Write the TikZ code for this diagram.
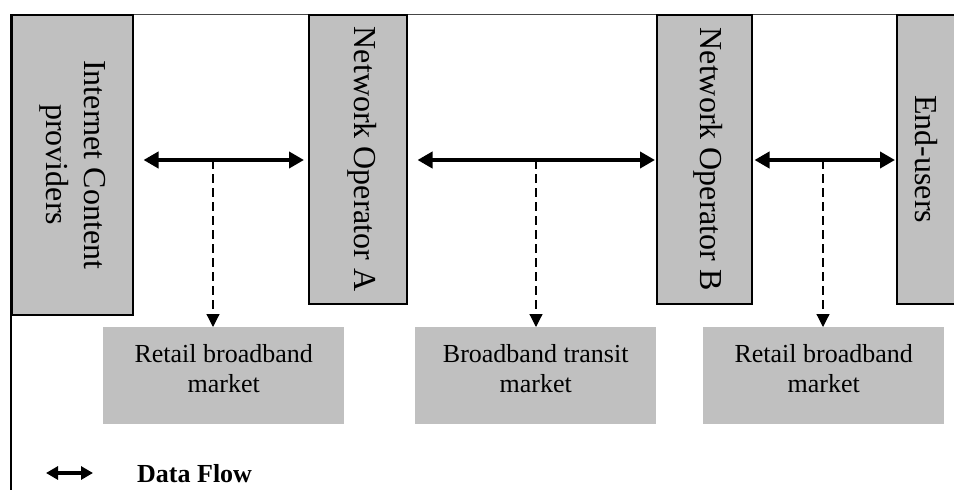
\documentclass[tikz,border=0pt]{standalone}
\usepackage{fontspec}
\setmainfont{Liberation Serif}
\usetikzlibrary{arrows.meta}
\definecolor{boxgray}{RGB}{192,192,192}
\definecolor{rulegray}{RGB}{70,70,70}
\begin{document}
\begin{tikzpicture}[x=1pt,y=-1pt,
  party/.style={draw=black,line width=1.5pt,fill=boxgray,inner sep=0pt,anchor=north west},
  market/.style={fill=boxgray,inner sep=0pt,anchor=north west,minimum width=241pt,minimum height=97pt},
  vlabel/.style={rotate=-90,align=center,inner sep=0pt,font=\fontsize{32}{38}\selectfont},
  mlabel/.style={align=center,inner sep=0pt,yshift=7pt,font=\fontsize{26}{30}\selectfont},
  flow/.style={line width=4pt,{Triangle[length=15pt,width=16pt]}-{Triangle[length=15pt,width=16pt]}},
  flowkey/.style={line width=4pt,{Triangle[length=12pt,width=13pt]}-{Triangle[length=12pt,width=13pt]}},
  share/.style={line width=1.2pt,dash pattern=on 9pt off 5pt,-{Triangle[length=13pt,width=13pt]}}]
\useasboundingbox (0,0) rectangle (954,490);

% outer frame: top rule and left rule
\draw[rulegray,line width=1pt] (10,14) -- (954,14);
\draw[black,line width=2pt] (11,14) -- (11,490);

% market participants (vertical boxes)
\node[party,minimum width=121pt,minimum height=300pt] (icp) at (11,14) {};
\node[party,minimum width=98pt,minimum height=289pt] (opa) at (308,14) {};
\node[party,minimum width=95pt,minimum height=289pt] (opb) at (656,14) {};
\node[party,minimum width=80pt,minimum height=289pt] (eu) at (896,14) {};

\node[vlabel] (icp-t) at ([xshift=0pt]icp.center) {Internet Content\\providers};
\node[vlabel] (opa-t) at ([xshift=4pt]opa.center) {Network Operator A};
\node[vlabel] (opb-t) at ([xshift=4pt]opb.center) {Network Operator B};
\node[vlabel] (eu-t) at ([xshift=-10pt]eu.center) {End-users};

% markets
\node[market] (m1) at (103,327) {};
\node[market] (m2) at (415,327) {};
\node[market] (m3) at (703,327) {};
\node[mlabel] (m1-t) at (m1.center) {Retail broadband\\market};
\node[mlabel] (m2-t) at (m2.center) {Broadband transit\\market};
\node[mlabel] (m3-t) at (m3.center) {Retail broadband\\market};

% data flows between participants
\coordinate (lvl) at (0,160);
\draw[flow] ([xshift=10pt]icp.east |- lvl) -- ([xshift=-4pt]opa.west |- lvl);
\draw[flow] ([xshift=10pt]opa.east |- lvl) -- ([xshift=-1pt]opb.west |- lvl);
\draw[flow] ([xshift=2pt]opb.east |- lvl) -- ([xshift=-1pt]eu.west |- lvl);

% each flow belongs to a market
\coordinate (s1) at (213,160);
\coordinate (s2) at (536,160);
\coordinate (s3) at (823,160);
\draw[share] (s1) -- (s1 |- m1.north);
\draw[share] (s2) -- (s2 |- m2.north);
\draw[share] (s3) -- (s3 |- m3.north);

% legend
\coordinate (k1) at (46,473);
\coordinate (k2) at (93,473);
\draw[flowkey] (k1) -- (k2);
\node[anchor=base west,inner sep=0pt,font=\fontsize{26}{30}\selectfont\bfseries] (key) at (137,482) {Data Flow};
\end{tikzpicture}
\end{document}
